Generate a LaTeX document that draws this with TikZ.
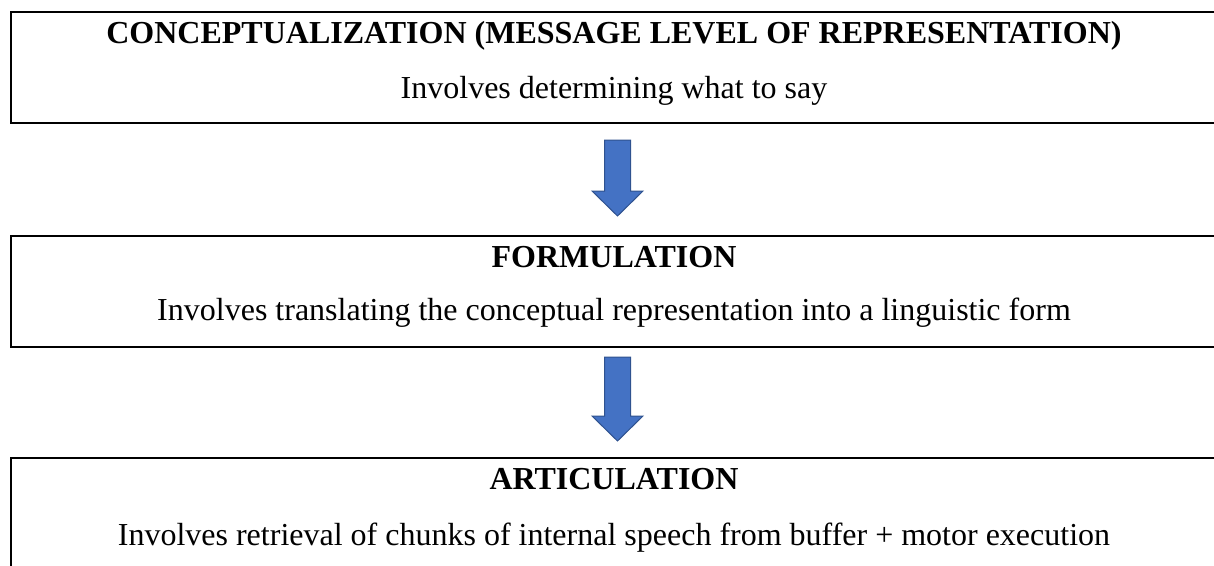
\documentclass[tikz,border=0pt]{standalone}
\usepackage{fontspec}
\setmainfont{Liberation Serif}
\definecolor{arrowblue}{HTML}{4472C4}
\definecolor{arrowedge}{HTML}{2F528F}
\begin{document}
\begin{tikzpicture}[x=1pt,y=-1pt,
  stage/.style={draw=black, line width=2.5pt, minimum width=1206pt, minimum height=111pt, inner sep=0pt},
  head/.style={anchor=base, font=\fontsize{32}{38}\selectfont\bfseries, inner sep=0pt},
  desc/.style={anchor=base, font=\fontsize{32}{38}\selectfont, inner sep=0pt},
  blockarrow/.style={fill=arrowblue, draw=arrowedge, line width=1pt, line join=miter}]
\useasboundingbox (0,0) rectangle (1214,565);

% the three stages
\node[stage] (s1) at (614,67.5) {};
\node[stage] (s2) at (614,291.5) {};
\node[stage] (s3) at (614,513.5) {};

\node[head] (t1) at (614,43) {CONCEPTUALIZATION (MESSAGE LEVEL OF REPRESENTATION)};
\node[desc] (d1) at (614,98) {Involves determining what to say};

\node[head] (t2) at (614,267) {FORMULATION};
\node[desc] (d2) at (614,320) {Involves translating the conceptual representation into a linguistic form};

\node[head] (t3) at (614,489) {ARTICULATION};
\node[desc] (d3) at (614,545) {Involves retrieval of chunks of internal speech from buffer + motor execution};

% block arrows between the stages
\draw[blockarrow, shift={(617.5,140)}]
  (-13,0) -- (13,0) -- (13,51) -- (25.5,51) -- (0,76) -- (-25.5,51) -- (-13,51) -- cycle;
\draw[blockarrow, shift={(617.5,357)}]
  (-13,0) -- (13,0) -- (13,59) -- (25.5,59) -- (0,84) -- (-25.5,59) -- (-13,59) -- cycle;
\end{tikzpicture}
\end{document}
